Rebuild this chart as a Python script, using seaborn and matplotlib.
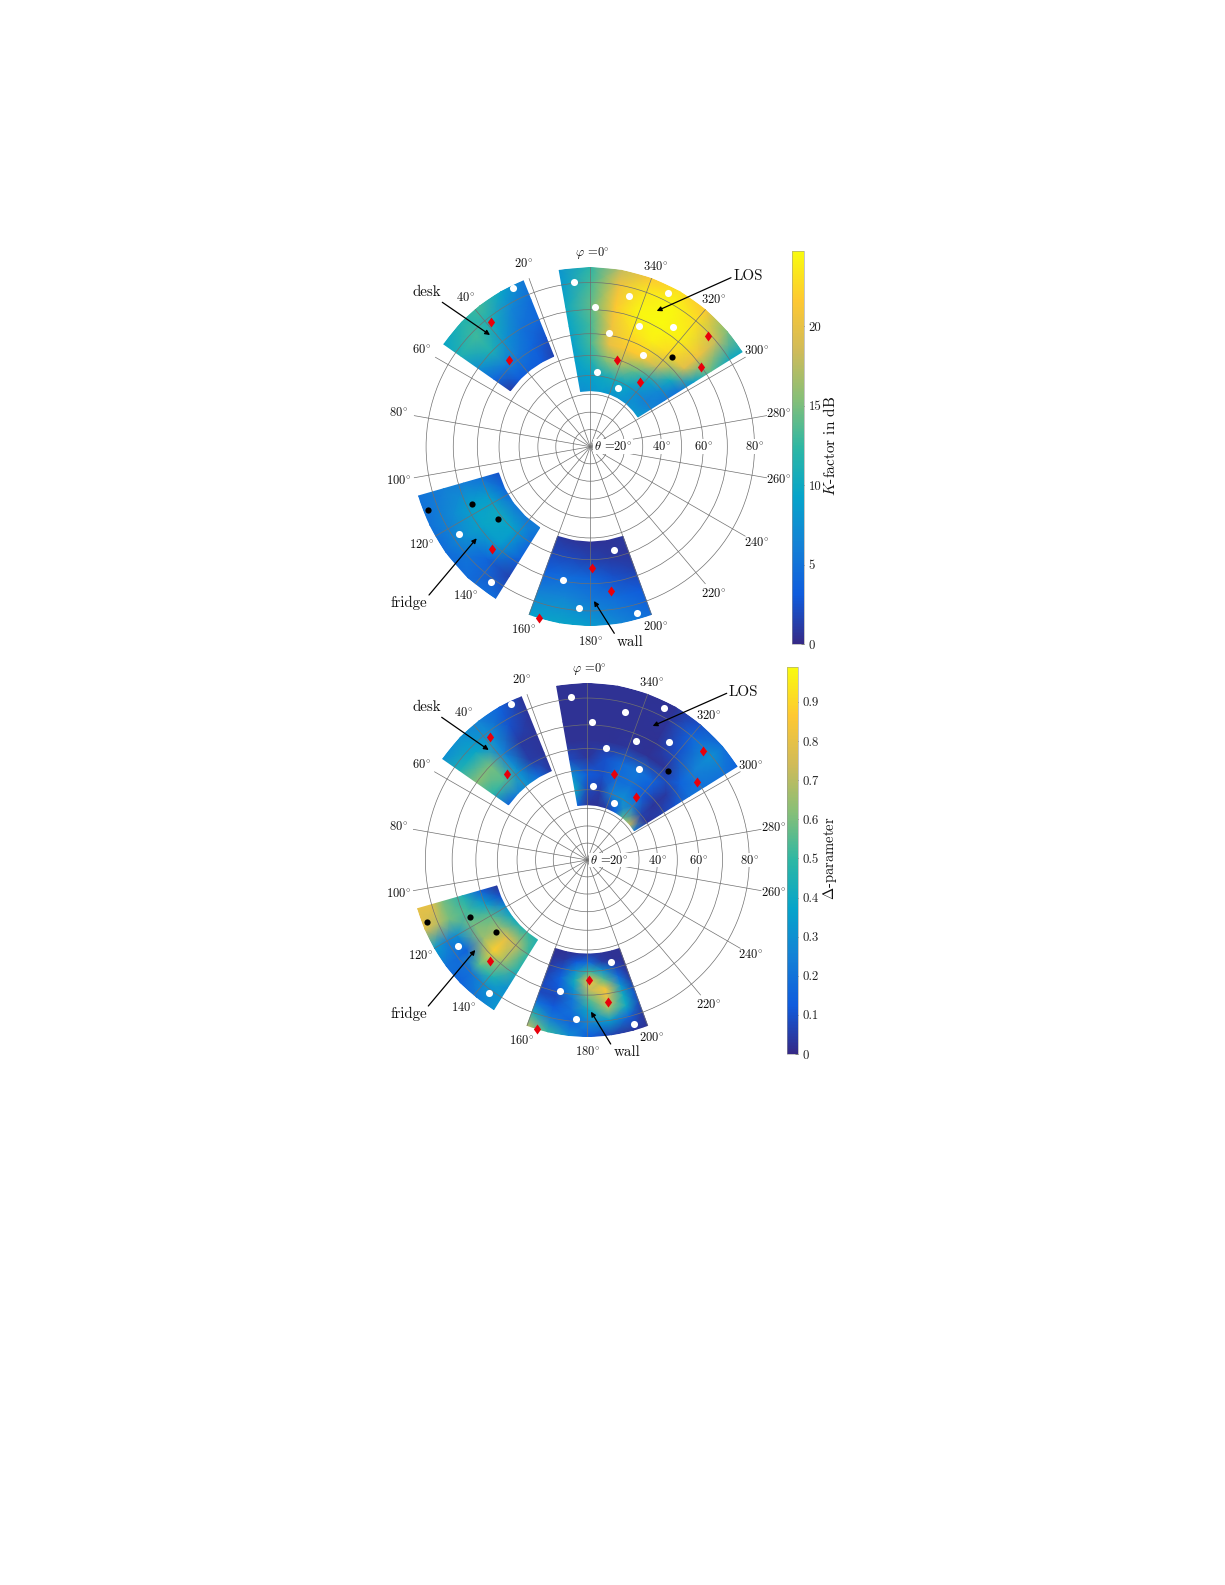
import matplotlib
matplotlib.use("Agg")
import matplotlib.pyplot as plt
import numpy as np
import seaborn as sns
from matplotlib.path import Path

# parula anchors
parula_colors = ["#352A87", "#0F5CDD", "#1481D6", "#06A4CA", "#2EB7A4", "#87BF77", "#D1BB59", "#FEC832", "#F9FB0E"]

# sector nodes (azimuth phi, elevation theta), degrees
los_phi = [-58, -50, -40, -30, -20, -10, 0, 10]
los_theta = [32, 40, 48, 56, 64, 72, 80, 85]
desk_phi = [22, 30, 38, 46, 55]
desk_theta = [53, 62, 70, 78, 85]
fridge_phi = [106, 116, 126, 137, 148]
wall_phi = [160, 170, 180, 190, 200]
lower_theta = [52, 60, 68, 76, 85]
fridge_d_phi = [106, 113, 120, 127, 134, 141, 148]
fridge_d_theta = [52, 60, 68, 76, 80, 85]
wall_d_phi = [160, 167, 174, 181, 188, 195, 200]
wall_d_theta = [52, 56, 60, 64, 68, 72, 76, 80, 85]

# K-factor in dB
k_los = [
    [8.5, 8.0, 7.5, 8.0, 8.0, 8.5, 8.0, 7.5],
    [6.5, 6.0, 7.5, 9.5, 10.5, 10.0, 9.0, 8.5],
    [5.5, 7.0, 10.0, 14.0, 17.0, 15.0, 11.0, 9.0],
    [5.0, 10.5, 18.0, 21.5, 21.5, 20.0, 13.0, 9.0],
    [9.0, 19.5, 22.5, 24.0, 23.0, 20.5, 13.0, 9.5],
    [14.0, 20.5, 24.0, 24.7, 24.5, 21.5, 14.0, 10.0],
    [10.0, 18.0, 23.0, 24.5, 23.5, 20.5, 13.0, 8.5],
    [10.0, 15.0, 21.5, 23.0, 21.5, 18.0, 12.0, 8.0],
]
k_desk = [
    [1.5, 3.0, 3.5, 3.0, 1.0],
    [2.5, 4.0, 5.5, 6.0, 4.0],
    [4.0, 5.0, 7.5, 11.0, 7.5],
    [4.5, 6.5, 10.5, 13.0, 11.0],
    [5.5, 9.5, 13.0, 11.5, 9.5],
]
k_fridge = [
    [2.5, 4.0, 5.5, 5.5, 5.5],
    [5.0, 8.5, 10.0, 9.0, 4.5],
    [6.0, 9.0, 9.5, 8.5, 3.5],
    [6.0, 7.0, 7.5, 4.0, 1.5],
    [5.0, 5.0, 4.5, 4.5, 4.5],
]
k_wall = [
    [1.0, 0.7, 0.6, 0.6, 0.8],
    [2.0, 2.0, 1.5, 1.0, 0.7],
    [3.5, 4.5, 4.0, 2.5, 1.5],
    [6.0, 6.5, 5.5, 4.5, 3.0],
    [9.0, 9.5, 8.5, 6.5, 4.5],
]

# Delta-parameter
d_los = [
    [0.25, 0.72, 0.55, 0.15, 0.05, 0.02, 0.03, 0.15],
    [0.03, 0.06, 0.25, 0.30, 0.25, 0.05, 0.08, 0.40],
    [0.05, 0.03, 0.12, 0.20, 0.18, 0.10, 0.12, 0.30],
    [0.10, 0.04, 0.15, 0.22, 0.18, 0.10, 0.03, 0.08],
    [0.20, 0.15, 0.03, 0.02, 0.03, 0.02, 0.02, 0.02],
    [0.20, 0.25, 0.10, 0.02, 0.02, 0.02, 0.02, 0.02],
    [0.20, 0.30, 0.15, 0.03, 0.02, 0.02, 0.02, 0.02],
    [0.15, 0.20, 0.10, 0.02, 0.02, 0.02, 0.02, 0.02],
]
d_desk = [
    [0.04, 0.18, 0.30, 0.25, 0.15],
    [0.03, 0.05, 0.30, 0.55, 0.48],
    [0.03, 0.04, 0.25, 0.60, 0.62],
    [0.03, 0.10, 0.30, 0.38, 0.45],
    [0.03, 0.15, 0.25, 0.30, 0.30],
]
d_fridge = [
    [0.03, 0.10, 0.30, 0.40, 0.45, 0.50, 0.45],
    [0.15, 0.35, 0.55, 0.65, 0.78, 0.70, 0.50],
    [0.45, 0.52, 0.60, 0.65, 0.88, 0.65, 0.45],
    [0.60, 0.60, 0.30, 0.15, 0.55, 0.45, 0.30],
    [0.80, 0.70, 0.25, 0.18, 0.20, 0.30, 0.32],
    [0.80, 0.78, 0.35, 0.20, 0.15, 0.22, 0.32],
]
d_wall = [
    [0.02, 0.02, 0.03, 0.05, 0.03, 0.02, 0.02],
    [0.03, 0.04, 0.12, 0.18, 0.05, 0.02, 0.02],
    [0.04, 0.10, 0.30, 0.50, 0.30, 0.08, 0.02],
    [0.06, 0.15, 0.42, 0.82, 0.55, 0.18, 0.03],
    [0.08, 0.12, 0.32, 0.72, 0.85, 0.32, 0.06],
    [0.08, 0.08, 0.22, 0.55, 0.80, 0.40, 0.10],
    [0.20, 0.12, 0.20, 0.40, 0.65, 0.40, 0.08],
    [0.45, 0.22, 0.15, 0.28, 0.35, 0.15, 0.04],
    [0.72, 0.50, 0.28, 0.12, 0.06, 0.03, 0.02],
]

# measured directions
white_phi = [5.8, 345.7, 333.2, 358.1, 337.9, 325.4, 350.5, 330.2, 355.2, 334.9, 26.0, 123.5, 143.6, 192.9, 168.3, 176.0, 195.8]
white_theta = [80.6, 76.9, 82.8, 71.1, 67.3, 73.3, 61.1, 56.9, 41.9, 36.4, 84.1, 77.7, 81.3, 56.9, 69.6, 79.1, 82.8]
black_phi = [317.9, 111.2, 115.9, 128.3]
black_theta = [63.6, 83.4, 68.0, 61.9]
red_phi = [313.2, 305.6, 342.7, 322.3, 38.4, 43.2, 135.9, 180.6, 188.3, 163.5]
red_theta = [79.1, 69.7, 49.8, 45.1, 78.3, 62.6, 71.9, 63.6, 73.4, 84.9]

azimuth_ticks = list(range(0, 360, 20))
ring_ticks = [10, 20, 30, 40, 50, 60, 70, 80]

k_ticks = [0, 5, 10, 15, 20]
k_tick_labels = ["0", "5", "10", "15", "20"]
d_ticks = [0, 0.1, 0.2, 0.3, 0.4, 0.5, 0.6, 0.7, 0.8, 0.9]
d_tick_labels = ["0", "0.1", "0.2", "0.3", "0.4", "0.5", "0.6", "0.7", "0.8", "0.9"]

WIDTH, HEIGHT = 1225, 1585
DIAMOND = Path([(0, 1), (0.72, 0), (0, -1), (-0.72, 0), (0, 1)], closed=True)


def fwd(t):
    return np.tan(np.deg2rad(np.clip(t, 0, 120)) / 2)


def inv(u):
    return np.rad2deg(2 * np.arctan(u))


def fx(px):
    return px / WIDTH


def fy(py):
    return 1 - py / HEIGHT


def draw_panel(fig, cx, cy, scale, cbar_box, fields, vmax, ticks, tick_labels, label, label_x, label_size, cmap, notes):
    radius = scale * np.tan(np.deg2rad(42.5))
    ax = fig.add_axes(
        [fx(cx - radius), fy(cy + radius), 2 * radius / WIDTH, 2 * radius / HEIGHT],
        polar=True,
    )
    ax.set_theta_zero_location("N")
    ax.set_theta_direction(1)
    ax.set_rscale("function", functions=(fwd, inv))

    mesh = None
    for phi, theta, values in fields:
        x, y = np.meshgrid(np.deg2rad(phi), theta)
        mesh = ax.pcolormesh(x, y, np.array(values), shading="gouraud", cmap=cmap, vmin=0, vmax=vmax)

    sns.scatterplot(x=np.deg2rad(white_phi), y=white_theta, ax=ax, marker="o", color="white",
                    s=26, linewidth=0, zorder=5, clip_on=False, legend=False)
    sns.scatterplot(x=np.deg2rad(black_phi), y=black_theta, ax=ax, marker="o", color="black",
                    s=20, linewidth=0, zorder=5, clip_on=False, legend=False)
    sns.scatterplot(x=np.deg2rad(red_phi), y=red_theta, ax=ax, marker=DIAMOND, color="#e8000b",
                    s=52, linewidth=0, zorder=5, clip_on=False, legend=False)

    ax.set_xlabel("")
    ax.set_ylabel("")
    ax.set_xlim(0, 2 * np.pi)
    ax.set_rticks(ring_ticks)
    ax.set_rlim(0, 85)
    ax.set_thetagrids(azimuth_ticks, labels=[""] * len(azimuth_ticks))
    ax.set_yticklabels([])
    ax.set_axisbelow(False)
    ax.grid(True, color="#707070", linewidth=0.5)
    ax.spines["polar"].set_visible(False)
    ax.patch.set_alpha(0)

    for az in azimuth_ticks:
        if az == 0:
            ax.text(np.deg2rad(359.3), 89.3, r"$\varphi$ =0$^{\circ}$", ha="center", va="center", fontsize=9)
        else:
            r = 89.7 if az <= 180 else 88.8
            ax.text(np.deg2rad(az), r, f"{az}$^{{\\circ}}$", ha="center", va="center", fontsize=9)

    halo = dict(facecolor="white", edgecolor="none", pad=0.6)
    ax.text(np.deg2rad(270), 24.2, r"$\theta$ =20$^{\circ}$", ha="right", va="center", fontsize=9, bbox=halo, zorder=6)
    for t in [40, 60, 80]:
        ax.text(np.deg2rad(270), t, f"{t}$^{{\\circ}}$", ha="center", va="center", fontsize=9, bbox=halo, zorder=6)

    for text, tx, ty, ax0, ay0, ax1, ay1 in notes:
        fig.text(fx(tx), fy(ty), text, ha="center", va="center", fontsize=10.8)
        ax.annotate(
            "",
            xy=(fx(ax1), fy(ay1)),
            xytext=(fx(ax0), fy(ay0)),
            xycoords="figure fraction",
            textcoords="figure fraction",
            arrowprops=dict(arrowstyle="-|>", color="black", lw=0.9, mutation_scale=7, shrinkA=0, shrinkB=0),
            zorder=7,
        )

    left, top, right, bottom = cbar_box
    cax = fig.add_axes([fx(left), fy(bottom), (right - left) / WIDTH, (bottom - top) / HEIGHT])
    cbar = fig.colorbar(mesh, cax=cax)
    cbar.set_ticks(ticks, labels=tick_labels)
    cbar.ax.tick_params(length=2, width=0.5, direction="in", labelsize=9.2, pad=3, colors="#222222")
    cbar.outline.set_linewidth(0.4)
    cbar.outline.set_edgecolor("#999999")
    fig.text(fx(label_x), fy((top + bottom) / 2 - 2), label, rotation=90, ha="center", va="center", fontsize=label_size)
    return ax


def main():
    sns.set_theme(style="white")
    plt.rcParams["font.family"] = ["cmr10", "DejaVu Serif"]
    plt.rcParams["mathtext.fontset"] = "cm"
    plt.rcParams["text.color"] = "#111111"
    cmap = sns.blend_palette(parula_colors, n_colors=256, as_cmap=True)

    fig = plt.figure(figsize=(WIDTH / 100, HEIGHT / 100), dpi=100, facecolor="white")

    top_fields = [
        (los_phi, los_theta, k_los),
        (desk_phi, desk_theta, k_desk),
        (fridge_phi, lower_theta, k_fridge),
        (wall_phi, lower_theta, k_wall),
    ]
    top_notes = [
        ("LOS", 748, 276, 731, 277.7, 656.7, 311),
        ("desk", 427.3, 291.7, 442.3, 302.3, 490, 335),
        ("fridge", 409.3, 603.3, 429, 595, 476.7, 538.3),
        ("wall", 630, 642, 614.3, 633.3, 594, 601),
    ]
    draw_panel(fig, 590.3, 446.7, 195.7, (792.3, 251.3, 804.3, 644), top_fields, 24.7,
               k_ticks, k_tick_labels, r"$K$-factor in dB", 830, 11, cmap, top_notes)

    bottom_fields = [
        (los_phi, los_theta, d_los),
        (desk_phi, desk_theta, d_desk),
        (fridge_d_phi, fridge_d_theta, d_fridge),
        (wall_d_phi, wall_d_theta, d_wall),
    ]
    bottom_notes = [
        ("LOS", 743.3, 692, 726.7, 693.3, 652.7, 726),
        ("desk", 427, 707, 441.7, 717.3, 488.7, 750),
        ("fridge", 409.3, 1014, 428.3, 1006, 475.3, 950),
        ("wall", 626.7, 1052, 610.7, 1044, 591, 1011.7),
    ]
    draw_panel(fig, 587.3, 860, 193, (787, 666.7, 798.3, 1054), bottom_fields, 0.99,
               d_ticks, d_tick_labels, r"$\Delta$-parameter", 830, 10.5, cmap, bottom_notes)

    fig.savefig("out.png", dpi=100, facecolor="white")
    plt.close(fig)


if __name__ == "__main__":
    main()
